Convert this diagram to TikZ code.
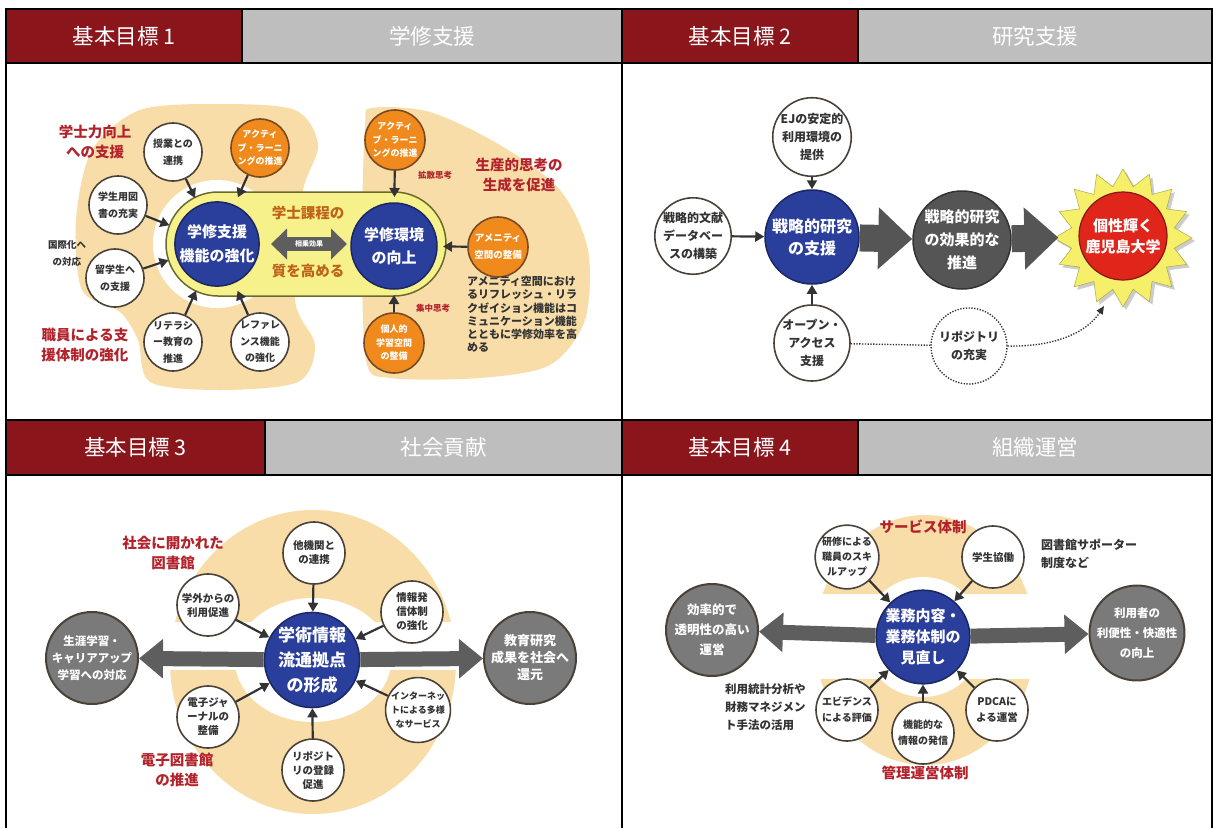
\documentclass[tikz,border=0pt]{standalone}
\usepackage{fontspec}
\setmainfont{Noto Sans CJK JP}
\usepackage{tikz}
\usetikzlibrary{arrows.meta}
\usetikzlibrary{shapes.geometric}

\definecolor{hdred}{HTML}{8A161B}
\definecolor{hdgray}{HTML}{BDBEBD}
\definecolor{beige}{HTML}{F8DDA8}
\definecolor{bluec}{HTML}{2A3E9C}
\definecolor{bluebd}{HTML}{1B2762}
\definecolor{orangec}{HTML}{F08A1C}
\definecolor{orangebd}{HTML}{7A4A22}
\definecolor{yellowc}{HTML}{F7F18C}
\definecolor{olivebd}{HTML}{6A6A2C}
\definecolor{redtx}{HTML}{B2232C}
\definecolor{browntx}{HTML}{BF621B}
\definecolor{txtc}{HTML}{333333}
\definecolor{circbd}{HTML}{4A4238}
\definecolor{grayc}{HTML}{7A7A7A}
\definecolor{darkc}{HTML}{555555}
\definecolor{fatc}{HTML}{5E5E5E}
\definecolor{sunc}{HTML}{F5EF6A}
\definecolor{sunred}{HTML}{E0261B}

\begin{document}
\begin{tikzpicture}[x=1pt,y=-1pt]
\tikzstyle{hcell}=[rectangle,draw=black,line width=1.5pt,text=white,inner sep=0pt,font=\fontsize{21.5}{24}\selectfont]
\tikzstyle{hred}=[hcell,fill=hdred,minimum width=236pt]
\tikzstyle{hgray}=[hcell,fill=hdgray]
\tikzstyle{wc}=[circle,draw=circbd,line width=1.6pt,fill=white,inner sep=0pt,minimum size=58pt,align=center,text=txtc,font=\fontsize{10}{16.5}\selectfont\bfseries]
\tikzstyle{oc}=[wc,fill=orangec,draw=orangebd,text=white,font=\fontsize{9}{13.5}\selectfont\bfseries]
\tikzstyle{wq}=[wc,minimum size=76pt,font=\fontsize{12}{18}\selectfont\bfseries]
\tikzstyle{ws}=[wc,minimum size=62pt,font=\fontsize{10.5}{14}\selectfont\bfseries]
\tikzstyle{bc}=[circle,draw=bluebd,line width=1.5pt,fill=bluec,inner sep=0pt,align=center,text=white,font=\fontsize{15}{24}\selectfont\bfseries]
\tikzstyle{gc}=[circle,draw=circbd,line width=2pt,fill=grayc,inner sep=0pt,minimum size=92pt,align=center,text=white,font=\fontsize{12}{19}\selectfont\bfseries]
\tikzstyle{arr}=[draw=txtc,line width=2.2pt,-{Triangle[length=9pt,width=10pt]}]
\tikzstyle{fat}=[draw=fatc,line width=15pt,-{Triangle[length=24pt,width=38pt]}]
\tikzstyle{huge}=[draw=darkc,line width=27pt,-{Triangle[length=34pt,width=60pt]}]
\tikzstyle{dots}=[draw=txtc,line width=1.4pt,dash pattern=on 1.3pt off 1.5pt]
\tikzstyle{redlab}=[text=redtx,align=center,font=\fontsize{14.5}{20}\selectfont\bfseries]
\tikzstyle{smallred}=[text=redtx,font=\fontsize{8.5}{10}\selectfont\bfseries]
\tikzstyle{note}=[text=txtc,align=left,inner sep=0pt,font=\fontsize{11}{13.2}\selectfont\bfseries]

\useasboundingbox (0,0) rectangle (1213,828);
\fill[white] (0,0) rectangle (1213,828);

% frame and headers
\draw[line width=1.5pt] (6,828) -- (6,9) -- (1212,9) -- (1212,828);
\draw[line width=1.5pt] (622,9) -- (622,828);
\node[hred,minimum height=54pt] at(124, 36) (h1) {基本目標 1};
\node[hgray,minimum width=380pt,minimum height=54pt] at(432, 36) (g1) {学修支援};
\node[hred,minimum height=54pt] at(740, 36) (h2) {基本目標 2};
\node[hgray,minimum width=354pt,minimum height=54pt] at(1035, 36) (g2) {研究支援};
\node[hred,minimum width=259pt,minimum height=55pt] at(135.5, 447.5) (h3) {基本目標 3};
\node[hgray,minimum width=357pt,minimum height=55pt] at(443.5, 447.5) (g3) {社会貢献};
\node[hred,minimum height=55pt] at(740, 447.5) (h4) {基本目標 4};
\node[hgray,minimum width=354pt,minimum height=55pt] at(1035, 447.5) (g4) {組織運営};

% goal 1
\fill[beige] plot[smooth cycle] coordinates {(140,110) (220,104) (295,110) (318,145) (302,195) (295,300) (315,345) (298,382) (220,390) (150,382) (138,340) (120,312) (82,290) (76,220) (92,150)};
\fill[beige] plot[smooth cycle] coordinates {(372,108) (430,112) (500,145) (560,190) (588,250) (585,320) (550,365) (480,378) (390,378) (366,360) (362,240) (365,125)};
\fill[white] (217,244) circle (64);
\draw[draw=olivebd,line width=1.5pt,fill=yellowc,rounded corners=52pt] (166,192) rectangle (446,296);
\node[bc,minimum size=82pt,outer sep=9pt] at(217, 244) (bl1) {学修支援\\機能の強化};
\node[bc,minimum size=86pt,outer sep=6pt,font=\fontsize{15}{23}\selectfont\bfseries] at(394, 246) (br1) {学修環境\\の向上};
\node[wc] at(173, 152) (c1) {授業との\\連携};
\node[wc] at(118, 205) (c2) {学生用図\\書の充実};
\node[wc] at(115, 278) (c3) {留学生へ\\の支援};
\node[wc] at(173, 342) (c4) {リテラシ\\ー教育の\\推進};
\node[wc] at(260, 342) (c5) {レファレ\\ンス機能\\の強化};
\node[oc] at(260, 148) (o1) {アクティ\\ブ・ラーニ\\ングの推進};
\node[oc,minimum size=60pt] at(395, 140) (o2) {アクティ\\ブ・ラーニ\\ングの推進};
\node[oc,minimum size=60pt,font=\fontsize{9.5}{17}\selectfont\bfseries] at(498, 247) (o3) {アメニティ\\空間の整備};
\node[oc,minimum size=60pt] at(394, 343) (o4) {個人的\\学習空間\\の整備};
\foreach \c in {c1,c2,c3,c4,c5,o1} \draw[arr] (\c) -- (bl1);
\foreach \c in {o2,o3,o4} \draw[arr] (\c) -- (br1);
\coordinate (sa) at (271,244);
\coordinate (sb) at (347,244);
\draw[draw=fatc,line width=14pt,{Triangle[length=16pt,width=30pt]}-{Triangle[length=16pt,width=30pt]}] (sa) -- (sb);
\node[text=white,font=\fontsize{7}{8}\selectfont\bfseries] at(309, 244) (syn) {相乗効果};
\node[text=browntx,font=\fontsize{14.5}{16}\selectfont\bfseries] at(308, 213) (tq1) {学士課程の};
\node[text=browntx,font=\fontsize{14.5}{16}\selectfont\bfseries] at(308, 271) (tq2) {質を高める};
\node[redlab] at(95, 142) (l1) {学士力向上\\への支援};
\node[redlab] at(85, 345) (l2) {職員による支\\援体制の強化};
\node[text=txtc,align=center,font=\fontsize{9.5}{17}\selectfont\bfseries] at(67, 253) (l3) {国際化へ\\の対応};
\node[smallred] at(435, 175) (l4) {拡散思考};
\node[smallred] at(433, 308) (l5) {集中思考};
\node[redlab] at(519, 175) (l6) {生産的思考の\\生成を促進};
\node[note,anchor=north west] at(467, 276) (l7) {アメニティ空間におけ\\るリフレッシュ・リラ\\クゼイション機能はコ\\ミュニケーション機能\\とともに学修効率を高\\める};

% goal 2
\node[bc,minimum size=94pt,font=\fontsize{16}{22}\selectfont\bfseries] at(812, 237) (b2) {戦略的研究\\の支援};
\node[wq] at(812, 137) (ej) {EJの安定的\\利用環境の\\提供};
\node[wq] at(693, 236) (db) {戦略的文献\\データベー\\スの構築};
\node[wq] at(812, 343) (oa) {オープン・\\アクセス\\支援};
\node[circle,draw=txtc,line width=1.5pt,fill=darkc,inner sep=0pt,minimum size=98pt,align=center,text=white,font=\fontsize{15}{23}\selectfont\bfseries] at(962, 240) (dk) {戦略的研究\\の効果的な\\推進};
\node[star,star points=16,star point ratio=1.32,minimum size=138pt,inner sep=0pt,fill=gray!40] at(1126, 241) (shd) {};
\node[star,star points=16,star point ratio=1.32,minimum size=138pt,inner sep=0pt,fill=sunc,draw=sunc!70!black,line width=0.5pt] at(1123, 238) (sun) {};
\node[circle,fill=sunred,draw=sunred!60!black,line width=1.2pt,minimum size=88pt,inner sep=0pt,align=center,text=white,font=\fontsize{15}{21}\selectfont\bfseries] at(1123, 236) (univ) {個性輝く\\鹿児島大学};
\node[wq,dots,fill=white] at(969, 346) (repo) {リポジトリ\\の充実};
\draw[arr] (ej) -- (b2);
\draw[arr] (db) -- (b2);
\draw[arr] (oa) -- (b2);
\draw[huge] (b2) -- (dk);
\draw[huge,shorten >=20pt] (dk) -- (univ);
\draw[dots] (oa) -- (repo);
\coordinate (rtip) at (1104,306);
\draw[dots,-{Triangle[length=8pt,width=7pt]}] (repo.east) .. controls (1050,347) and (1085,335) .. (rtip);

% goal 3
\fill[beige] (313,662) ellipse [x radius=143,y radius=152];
\fill[white] (313,660) ellipse [x radius=78,y radius=62];
\fill[white] (165,622) rectangle (460,670);
\node[bc,minimum size=90pt,font=\fontsize{17}{25}\selectfont\bfseries] at(312, 660) (b3) {学術情報\\流通拠点\\の形成};
\node[ws] at(314, 553) (t1) {他機関と\\の連携};
\node[ws] at(208, 605) (t2) {学外からの\\利用促進};
\node[ws] at(208, 717) (t3) {電子ジャ\\ーナルの\\整備};
\node[ws] at(313, 770) (t4) {リポジト\\リの登録\\促進};
\node[ws] at(412, 612) (t5) {情報発\\信体制\\の強化};
\node[ws,font=\fontsize{9}{14}\selectfont\bfseries] at(418, 710) (t6) {インターネッ\\トによる多様\\なサービス};
\node[gc,font=\fontsize{11.5}{17}\selectfont\bfseries] at(92, 658) (gl3) {生涯学習・\\キャリアアップ\\学習への対応};
\node[gc,font=\fontsize{13}{17}\selectfont\bfseries] at(530, 658) (gr3) {教育研究\\成果を社会へ\\還元};
\foreach \c in {t1,t2,t3,t4,t5,t6} \draw[arr] (\c) -- (b3);
\draw[fat] (b3) -- (gl3);
\draw[fat] (b3) -- (gr3);
\node[redlab] at(173, 553) (l8) {社会に開かれた\\図書館};
\node[redlab] at(177, 770) (l9) {電子図書館\\の推進};

% goal 4
\fill[beige] (925,640) ellipse [x radius=110,y radius=125];
\fill[white] (923,637) circle (60);
\fill[white] (800,594) rectangle (1050,679);
\node[bc,minimum size=88pt,font=\fontsize{15}{21}\selectfont\bfseries] at(923, 637) (b4) {業務内容・\\業務体制の\\見直し};
\node[ws,font=\fontsize{10}{15}\selectfont\bfseries] at(847, 557) (s1) {研修による\\職員のスキ\\ルアップ};
\node[ws] at(993, 557) (s2) {学生協働};
\node[ws,font=\fontsize{10}{16}\selectfont\bfseries] at(847, 710) (s3) {エビデンス\\による評価};
\node[ws,font=\fontsize{10}{16}\selectfont\bfseries] at(923, 733) (s4) {機能的な\\情報の発信};
\node[ws,font=\fontsize{10.5}{16}\selectfont\bfseries] at(997, 710) (s5) {PDCAに\\よる運営};
\node[gc,font=\fontsize{12.5}{20}\selectfont\bfseries] at(712, 630) (gl4) {効率的で\\透明性の高い\\運営};
\node[gc,font=\fontsize{11.5}{20}\selectfont\bfseries] at(1137, 633) (gr4) {利用者の\\利便性・快適性\\の向上};
\foreach \c in {s1,s2,s3,s4,s5} \draw[arr] (\c) -- (b4);
\draw[fat] (b4) -- (gl4);
\draw[fat] (b4) -- (gr4);
\node[redlab] at(923, 527) (l10) {サービス体制};
\node[redlab] at(925, 773) (l11) {管理運営体制};
\node[note,anchor=north west,font=\fontsize{12}{18}\selectfont\bfseries] at(1041, 539) (l12) {図書館サポーター\\制度など};
\node[note,anchor=north west,font=\fontsize{11.5}{18}\selectfont\bfseries] at(725, 683) (l13) {利用統計分析や\\財務マネジメン\\ト手法の活用};
\end{tikzpicture}
\end{document}
